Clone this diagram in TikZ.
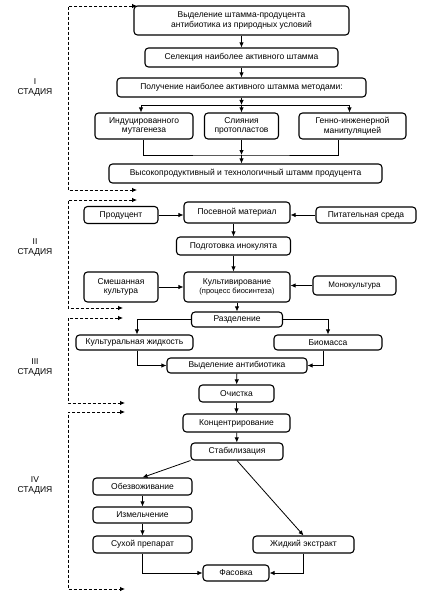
\documentclass[tikz,border=0pt]{standalone}
\usepackage{fontspec}
\setmainfont{Liberation Sans}
\usetikzlibrary{calc}
\usetikzlibrary{arrows.meta}

\begin{document}
\begin{tikzpicture}[x=1pt,y=-1pt,>={Latex[length=5pt,width=4.5pt]},
    blk/.style 2 args={draw,line width=1.1pt,rounded corners=3.5pt,align=center,inner sep=0pt,
      minimum width=#1,minimum height=#2,font=\fontsize{8.5}{9.5}\selectfont},
    conn/.style={->,line width=0.8pt},
    stagebr/.style={<->,line width=0.8pt,dash pattern=on 3pt off 2pt},
    stlab/.style={align=center,font=\fontsize{8.5}{10}\selectfont}]

      \useasboundingbox (0,0) rectangle (426,599);
      \coordinate (rail) at (68,0);

      % stage I
      \node[blk={215pt}{29pt}] (wild) at (241.5,20.5) {Выделение штамма-продуцента\\антибиотика из природных условий};
      \node[blk={193pt}{19pt}] (selct) at (241.5,57.5) {Селекция наиболее активного штамма};
      \node[blk={249pt}{19pt}] (meth) at (241.5,87.5) {Получение наиболее активного штамма методами:};
      \node[blk={98pt}{26pt}] (mut) at (144,126) {Индуцированного\\мутагенеза};
      \node[blk={74pt}{26pt}] (fus) at (241.5,126) {Слияния\\протопластов};
      \node[blk={107pt}{26pt}] (gen) at (352.5,126) {Генно-инженерной\\манипуляцией};
      \node[blk={273pt}{19pt}] (strain) at (245.5,173.5) {Высокопродуктивный и технологичный штамм продуцента};

      \coordinate (split) at (241.5,105);
      \coordinate (join) at (241.5,155);
      \draw[conn] (wild) -- (selct);
      \draw[conn] (selct) -- (meth);
      \draw[conn] (meth) -- (split);
      \draw[conn] (split) -- (fus);
      \draw[conn] (split) -| ([xshift=-3pt]mut.north);
      \draw[conn] (split) -| ([xshift=-3pt]gen.north);
      \draw[line width=0.8pt] ([xshift=-1pt]mut.south) |- (join) -| ([xshift=-14pt]gen.south);
      \draw[conn] (fus) -- (join);
      \draw[conn] (join) -- (join |- strain.north);

      % stage II
      \node[blk={74pt}{17pt}] (prod) at (121,215) {Продуцент};
      \node[blk={106pt}{21pt}] (seed) at (237,212.5) {Посевной материал};
      \node[blk={100pt}{16pt}] (nutr) at (366,215) {Питательная среда};
      \node[blk={114pt}{18pt}] (inoc) at (233.5,246) {Подготовка инокулята};
      \node[blk={74pt}{30pt}] (mixed) at (121,287) {Смешанная\\культура};
      \node[blk={106pt}{30pt}] (cult) at (237,287) {Культивирование\\{\fontsize{7.5}{9}\selectfont(процесс биосинтеза)}};
      \node[blk={83pt}{19pt}] (mono) at (354.5,285.5) {\fontsize{8}{9}\selectfont Монокультура};

      \draw[conn] (prod.east) -- (prod.east -| seed.west);
      \draw[conn] (nutr.west) -- (nutr.west -| seed.east);
      \draw[conn] (inoc.north |- seed.south) -- (inoc.north);
      \draw[conn] (inoc.south) -- (inoc.south |- cult.north);
      \draw[conn] (mixed) -- (cult);
      \draw[conn] (mono.west) -- (mono.west -| cult.east);

      % stage III
      \node[blk={91pt}{15pt}] (sep) at (237,319.5) {Разделение};
      \node[blk={117pt}{15pt}] (liquid) at (134.5,342.5) {Культуральная жидкость};
      \node[blk={108pt}{15pt}] (bio) at (328,342.5) {Биомасса};
      \node[blk={140pt}{15pt}] (antib) at (237,365.5) {Выделение антибиотика};
      \node[blk={75pt}{17pt}] (pur) at (236.5,393.5) {Очистка};

      \draw[conn] (cult) -- (sep);
      \draw[conn] (sep.west) -| ([xshift=2.5pt]liquid.north);
      \draw[conn] (sep.east) -| (bio.north);
      \draw[conn] ([xshift=2.5pt]liquid.south) |- (antib.west);
      \draw[conn] ([xshift=-5pt]bio.south) |- (antib.east);
      \draw[conn] (antib) -- (pur);

      % stage IV
      \node[blk={107pt}{18pt}] (conc) at (236.5,423) {Концентрирование};
      \node[blk={92pt}{17pt}] (stab) at (237,451.5) {Стабилизация};
      \node[blk={99pt}{17pt}] (dry) at (142.5,486.5) {Обезвоживание};
      \node[blk={99pt}{16pt}] (mill) at (142.5,515) {Измельчение};
      \node[blk={99pt}{17pt}] (powder) at (142.5,544.5) {Сухой препарат};
      \node[blk={101pt}{17pt}] (extr) at (303.5,544.5) {Жидкий экстракт};
      \node[blk={66pt}{16pt}] (pack) at (236,573) {Фасовка};

      \draw[conn] (pur) -- (conc);
      \draw[conn] (conc) -- (stab);
      \draw[conn] (stab.south west) -- (dry.north);
      \draw[conn] (stab.south) -- (extr.north);
      \draw[conn] (dry) -- (mill);
      \draw[conn] (mill) -- (powder);
      \draw[conn] (powder.south) |- (pack.west);
      \draw[conn] (extr.south) |- (pack.east);

      % stage brackets
      \coordinate (s1a) at (137,6);   \coordinate (s1b) at (137,190);
      \coordinate (s2a) at (137,200); \coordinate (s2b) at (123,308);
      \coordinate (s3a) at (123,318); \coordinate (s3b) at (125,403);
      \coordinate (s4a) at (125,412); \coordinate (s4b) at (125,589);
      \foreach \a/\b in {s1a/s1b,s2a/s2b,s3a/s3b,s4a/s4b}
        \draw[stagebr] (\a) -- (\a -| rail) -- (\b -| rail) -- (\b);

      \node[stlab] (st1) at (35,87) {I\\СТАДИЯ};
      \node[stlab] (st2) at (35,247) {II\\СТАДИЯ};
      \node[stlab] (st3) at (35,367) {III\\СТАДИЯ};
      \node[stlab] (st4) at (35,485.5) {IV\\СТАДИЯ};
    \end{tikzpicture}
\end{document}
